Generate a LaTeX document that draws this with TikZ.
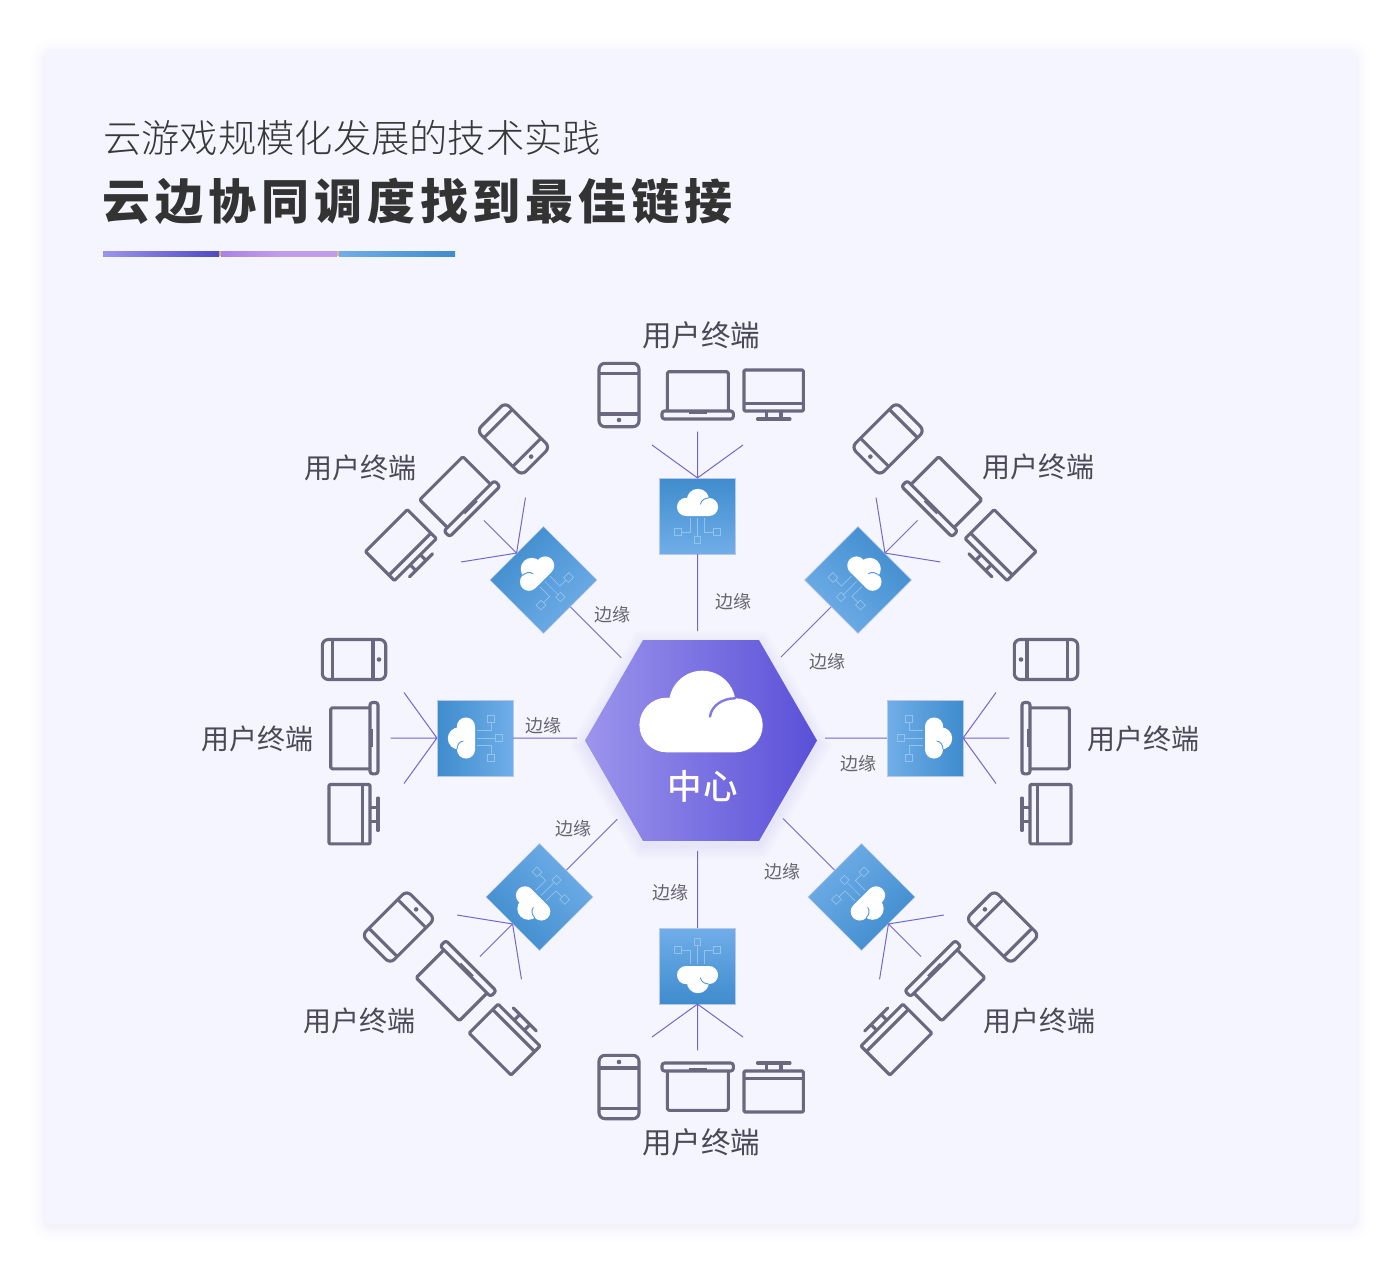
\documentclass[tikz,border=0pt]{standalone}
\usepackage{fontspec}
\setmainfont{Noto Sans CJK SC}
\newfontfamily\titlefont{Noto Sans CJK SC Light}
\newfontfamily\headfont[LetterSpace=10.2]{Noto Sans CJK SC Black}
\newfontfamily\hubfont[LetterSpace=4]{Noto Sans CJK SC Medium}
\usetikzlibrary{shapes.geometric}

\definecolor{cardbg}{HTML}{F5F5FF}
\definecolor{ink}{HTML}{4B4957}
\definecolor{devicecol}{HTML}{6A677E}
\definecolor{linkcol}{HTML}{7566C9}
\definecolor{boxdark}{HTML}{3F8CCD}
\definecolor{boxlight}{HTML}{70AEE8}
\definecolor{netcol}{HTML}{93C1EE}
\definecolor{hexlight}{HTML}{9C94EC}
\definecolor{hexdark}{HTML}{5A50D8}
\definecolor{barpurple}{HTML}{C19CEA}
\definecolor{barmauve}{HTML}{AB82E2}
\definecolor{barorange}{HTML}{E8B96A}

\tikzset{
	device/.style={draw=devicecol, line width=3.1pt, line join=round},
	link/.style={draw=linkcol, line width=1pt},
	edgebox/.style={draw=boxlight!60!linkcol!50, line width=.6pt, minimum size=75.6pt, inner sep=0pt},
	edgelabel/.style={text=ink!85, inner sep=0pt, font=\fontsize{18}{18}\selectfont},
	userlabel/.style={text=ink, inner sep=0pt, font=\fontsize{28}{28}\selectfont},
	hexglow/.style={regular polygon, regular polygon sides=6, inner sep=0pt, fill=linkcol, fill opacity=.02}
}

\newcommand{\cloudshape}[1]{%
	\fill[white] (-34.3,-27.3) circle (27.3pt) (1.3,-48.3) circle (33.3pt) (34.7,-27) circle (27pt)
		(-34.3,-30) rectangle (34.7,0);
	\draw[#1, line cap=round] (9,-35.7) .. controls (10.5,-47) and (22,-54) .. (34,-54);
}

\newcommand{\terminals}{%
	\draw[device, rounded corners=6pt] (-98.5,-152.7) rectangle (-58.5,-89.3);
	\draw[device] (-98.5,-142.7) -- (-58.5,-142.7) (-98.5,-102) -- (-58.5,-102);
	\fill[devicecol] (-78.5,-96) circle (2.3pt);
	\draw[device, rounded corners=1.5pt] (-30.2,-104.3) -- (-30.2,-144.3) -- (30.8,-144.3) -- (30.8,-104.3);
	\draw[device, rounded corners=2.5pt] (-35.5,-105) rectangle (35.8,-97);
	\draw[device] (-9,-103.5) -- (9,-103.5);
	\draw[device, rounded corners=1pt] (46.5,-146) rectangle (105.8,-105);
	\draw[device] (46.5,-112.7) -- (105.8,-112.7) (69.2,-105) -- (69.2,-97) (83.5,-105) -- (83.5,-97);
	\draw[device, line cap=round] (60,-97) -- (92.5,-97);
}

\newcommand{\edgesector}[5]{%
	\begin{scope}[cm={#2,(#3)}]
		\node[edgebox, transform shape, top color=boxdark, bottom color=boxlight, shading angle=#4] (edge#1) at (0,0) {};
		\terminals
		\begin{scope}[scale=1/3]
			\cloudshape{boxdark!70!boxlight, line width=.9pt}
		\end{scope}
		\draw[netcol, line width=.7pt] (0,2) -- (0,20.7) (-7.3,2) -- (-7.3,16) -- (-16,16) (7.3,2) -- (7.3,16) -- (16,16)
			(-3.3,20.7) rectangle (3.3,27.3) (-23,12.7) rectangle (-16,19.3) (16,12.7) rectangle (23,19.3);
		\coordinate (end#1a) at (-45.5,-71);
		\coordinate (end#1b) at (0,-84.3);
		\coordinate (end#1c) at (45.5,-71);
		\coordinate (end#1d) at (0,#5);
		\draw[link] (edge#1.north) -- (end#1a) (edge#1.north) -- (end#1b) (edge#1.north) -- (end#1c) (edge#1.south) -- (end#1d);
	\end{scope}
}

\begin{document}
\begin{tikzpicture}[x=1pt, y=-1pt]
\useasboundingbox (0,0) rectangle (1400,1272);

\foreach \w in {1,2,3,4,5,6,8,10,13,16}
	\fill[linkcol, fill opacity=.009, rounded corners=8+\w] (45-\w,50-\w+3) rectangle (1356+\w,1224+\w+3);
\fill[cardbg, rounded corners=8pt] (45,50) rectangle (1356,1224);

\node[anchor=west, inner sep=0pt, text=black!78, font=\titlefont\fontsize{38.3}{38}\selectfont] (title) at (103,138) {云游戏规模化发展的技术实践};
\node[anchor=west, inner sep=0pt, text=black!80, font=\headfont\fontsize{48}{48}\selectfont] (headline) at (102.5,201) {云边协同调度找到最佳链接};
\fill[barorange] (218,251) rectangle (340,256);
\shade[left color=hexlight, right color=hexdark!90!black] (103,251) rectangle (219,256);
\shade[left color=barmauve, right color=barpurple, middle color=barpurple] (221,251) rectangle (337,256);
\shade[left color=boxlight, right color=boxdark] (339,251) rectangle (455,256);

\foreach \r in {238,244,250,256,262}
	\node[hexglow, minimum size=\r pt] (glow\r) at (701,745) {};
\node[regular polygon, regular polygon sides=6, minimum size=232pt, inner sep=0pt, left color=hexlight, right color=hexdark] (hub) at (701,740.5) {};
\begin{scope}[shift={(701,752.3)}]
	\cloudshape{hexlight!60!hexdark, line width=2.4pt}
\end{scope}
\node[text=white, inner sep=0pt, font=\hubfont\fontsize{34.5}{34}\selectfont] (hubname) at (702.5,786) {中心};

\edgesector{T}{1,0,0,1}{697.5,516}{0}{115}
\edgesector{B}{1,0,0,-1}{697.5,966}{180}{115}
\edgesector{L}{0,-1,-1,0}{475,738}{90}{102}
\edgesector{R}{0,-1,1,0}{925,738}{270}{100}
\edgesector{TL}{-.7071,-.7071,-.7071,.7071}{543.5,580}{45}{110}
\edgesector{TR}{.7071,-.7071,.7071,.7071}{858,580}{315}{109}
\edgesector{BL}{.7071,-.7071,-.7071,-.7071}{539.5,897}{135}{110}
\edgesector{BR}{-.7071,-.7071,.7071,-.7071}{861.5,897}{225}{111}

\foreach \n/\x/\y in {a/733/602, b/612/615, c/827/662, d/858/764, e/543/726, f/573/829, g/670/893, h/782/872}
	\node[edgelabel] (side\n) at (\x,\y) {边缘};
\foreach \n/\x/\y in {b/360/468, c/1038/467, d/257/739, e/1143/739, f/359/1021, g/1039/1021}
	\node[userlabel] (user\n) at (\x,\y) {用户终端};
\foreach \n/\x/\y in {a/701/335, h/701/1142}
	\node[userlabel, font=\fontsize{29.5}{29.5}\selectfont] (user\n) at (\x,\y) {用户终端};
\end{tikzpicture}
\end{document}
